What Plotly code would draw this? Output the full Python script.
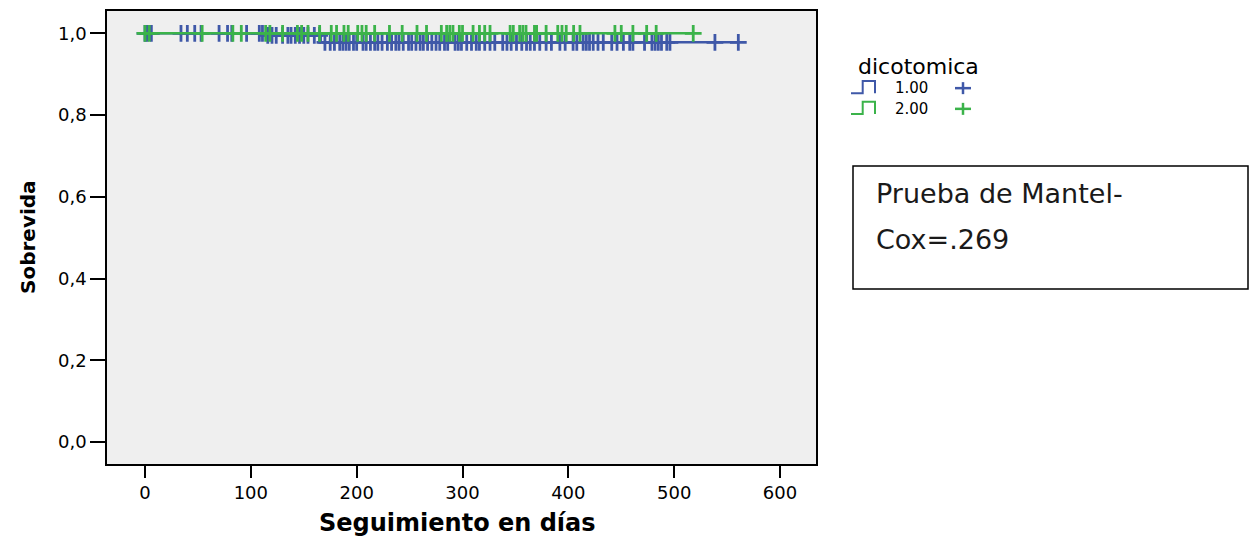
import plotly.graph_objects as go

# ---------------- data ----------------
blue_name = "1.00"
green_name = "2.00"

# Kaplan-Meier events (time, survival after event)
blue_event_times = [115, 166]
blue_event_surv = [0.995, 0.978]
blue_end = 561

green_event_times = []
green_event_surv = []
green_end = 518

blue_censor = [0, 2, 6, 34, 40, 47, 53, 70, 78, 82, 96, 108, 111, 116, 120, 124, 130,
               135, 138, 142, 146, 150, 154, 160, 165, 170, 175, 179, 184, 187, 190, 193,
               197, 200, 206, 209, 213, 217, 220, 224, 229, 233, 237, 240, 244, 249, 252,
               256, 260, 263, 267, 271, 275, 278.5, 283, 286, 293, 296, 299, 304, 308.5,
               313, 316, 321, 326, 330.5, 338, 342, 346, 351, 356, 360.5, 364, 368, 373,
               379, 384, 392, 397, 404.5, 408, 414, 417, 420, 423.5, 428, 433, 441, 446,
               452, 458, 461, 472, 479, 482, 485, 488, 493, 496, 538.5, 560.6]

green_censor = [0, 4, 54, 83, 91, 114, 118, 130, 144, 148, 154, 165, 176, 181, 188, 192,
                201, 205, 209, 217, 231, 243, 257, 266, 280, 285, 288, 291, 297, 300, 310,
                316, 321, 326, 345, 348, 354, 357, 360, 368, 370, 379, 390, 394, 398, 405,
                411, 444, 450, 461, 474, 483, 518]

x_ticks = [0, 100, 200, 300, 400, 500, 600]
y_ticks = [0.0, 0.2, 0.4, 0.6, 0.8, 1.0]
y_ticktext = ["0,0", "0,2", "0,4", "0,6", "0,8", "1,0"]

x_title = "Seguimiento en días"
y_title = "Sobrevida"
legend_title = "dicotomica"
box_text = ["Prueba de Mantel-", "Cox=.269"]

BLUE = "#3f58a8"
GREEN = "#3bb34a"


def surv_at(t, ev_t, ev_s):
    s = 1.0
    for et, es in zip(ev_t, ev_s):
        if t >= et:
            s = es
    return s


def km_line(ev_t, ev_s, end):
    xs = [0] + list(ev_t) + [end]
    ys = [1.0] + list(ev_s) + [ev_s[-1] if ev_s else 1.0]
    return xs, ys


fig = go.Figure()

for name, ev_t, ev_s, end, cens, col in [
    (blue_name, blue_event_times, blue_event_surv, blue_end, blue_censor, BLUE),
    (green_name, green_event_times, green_event_surv, green_end, green_censor, GREEN),
]:
    lx, ly = km_line(ev_t, ev_s, end)
    fig.add_trace(go.Scatter(x=lx, y=ly, mode="lines", line=dict(color=col, width=2.5, shape="hv"),
                             name=name, showlegend=False, hoverinfo="skip"))
    fig.add_trace(go.Scatter(x=cens, y=[surv_at(t, ev_t, ev_s) for t in cens], mode="markers",
                             marker=dict(symbol="cross-thin-open", size=12, color=col,
                                         line=dict(color=col, width=2.8)),
                             name=name, showlegend=False))

# ---------------- layout ----------------
W, H = 1251, 538
L, R, T, B = 107, 816, 11, 464
pw, ph = R - L, B - T


def px(x):
    return (x - L) / pw


def py(y):
    return (B - y) / ph


fig.update_layout(
    width=W, height=H,
    margin=dict(l=L, r=W - R, t=T, b=H - B, autoexpand=False),
    paper_bgcolor="white",
    plot_bgcolor="#efefef",
    showlegend=False,
    font=dict(family="DejaVu Sans", color="black"),
)

fig.update_xaxes(
    range=[-35.9, 634], tickvals=x_ticks, ticks="outside", ticklen=12, tickwidth=2,
    tickcolor="black", showline=True, linecolor="black", linewidth=1.5, mirror=True,
    showgrid=False, zeroline=False, tickfont=dict(family="DejaVu Sans", size=18, color="black"),
)
fig.update_yaxes(
    range=[-0.0538, 1.0546], tickvals=y_ticks, ticktext=y_ticktext, ticks="outside", ticklen=15,
    tickwidth=2, tickcolor="black", showline=True, linecolor="black", linewidth=1.5, mirror=True,
    showgrid=False, zeroline=False, tickfont=dict(family="DejaVu Sans", size=18, color="black"),
)

ann = []
ann.append(dict(x=px(457.5), y=py(523), xref="paper", yref="paper", text=x_title, showarrow=False,
                xanchor="center", yanchor="middle",
                font=dict(family="DejaVu Sans", size=24, color="black", weight="bold")))
ann.append(dict(x=px(28), y=py(237), xref="paper", yref="paper", text=y_title, showarrow=False,
                textangle=-90, xanchor="center", yanchor="middle",
                font=dict(family="DejaVu Sans", size=20, color="black", weight="bold")))
# legend
ann.append(dict(x=px(856), y=py(67), xref="paper", yref="paper", text=legend_title, showarrow=False,
                xanchor="left", yanchor="middle", font=dict(family="DejaVu Sans", size=22, color="black")))
shapes = []
for i, (name, col) in enumerate([(blue_name, BLUE), (green_name, GREEN)]):
    dy = i * 20.7
    yb, yt = 93.3 + dy, 81 + dy
    path = (f"M {px(851)} {py(yb)} L {px(862.7)} {py(yb)} L {px(862.7)} {py(yt)} "
            f"L {px(875)} {py(yt)} L {px(875)} {py(yb)}")
    shapes.append(dict(type="path", path=path, xref="paper", yref="paper",
                       line=dict(color=col, width=2)))
    ym = (yb + yt) / 2 + 1
    ann.append(dict(x=px(893), y=py(ym), xref="paper", yref="paper", text=name, showarrow=False,
                    xanchor="left", yanchor="middle", font=dict(family="DejaVu Sans", size=15, color="black")))
    shapes.append(dict(type="line", x0=px(955), x1=px(971), y0=py(ym), y1=py(ym), xref="paper", yref="paper",
                       line=dict(color=col, width=2.5)))
    shapes.append(dict(type="line", x0=px(963), x1=px(963), y0=py(ym - 6), y1=py(ym + 6), xref="paper",
                       yref="paper", line=dict(color=col, width=2.5)))

# Mantel-Cox box
shapes.append(dict(type="rect", x0=px(853), x1=px(1248), y0=py(289), y1=py(166), xref="paper", yref="paper",
                   line=dict(color="black", width=1.5), fillcolor="white", layer="below"))
for j, line in enumerate(box_text):
    ann.append(dict(x=px(874), y=py(193 + 46 * j), xref="paper", yref="paper", text=line, showarrow=False,
                    xanchor="left", yanchor="middle",
                    font=dict(family="DejaVu Sans", size=27, color="#1a1a1a")))

fig.update_layout(annotations=ann, shapes=shapes)
fig.write_html("out.html", config={"displayModeBar": False},
               post_script="document.body.style.margin='0px';document.body.style.overflow='hidden';")
